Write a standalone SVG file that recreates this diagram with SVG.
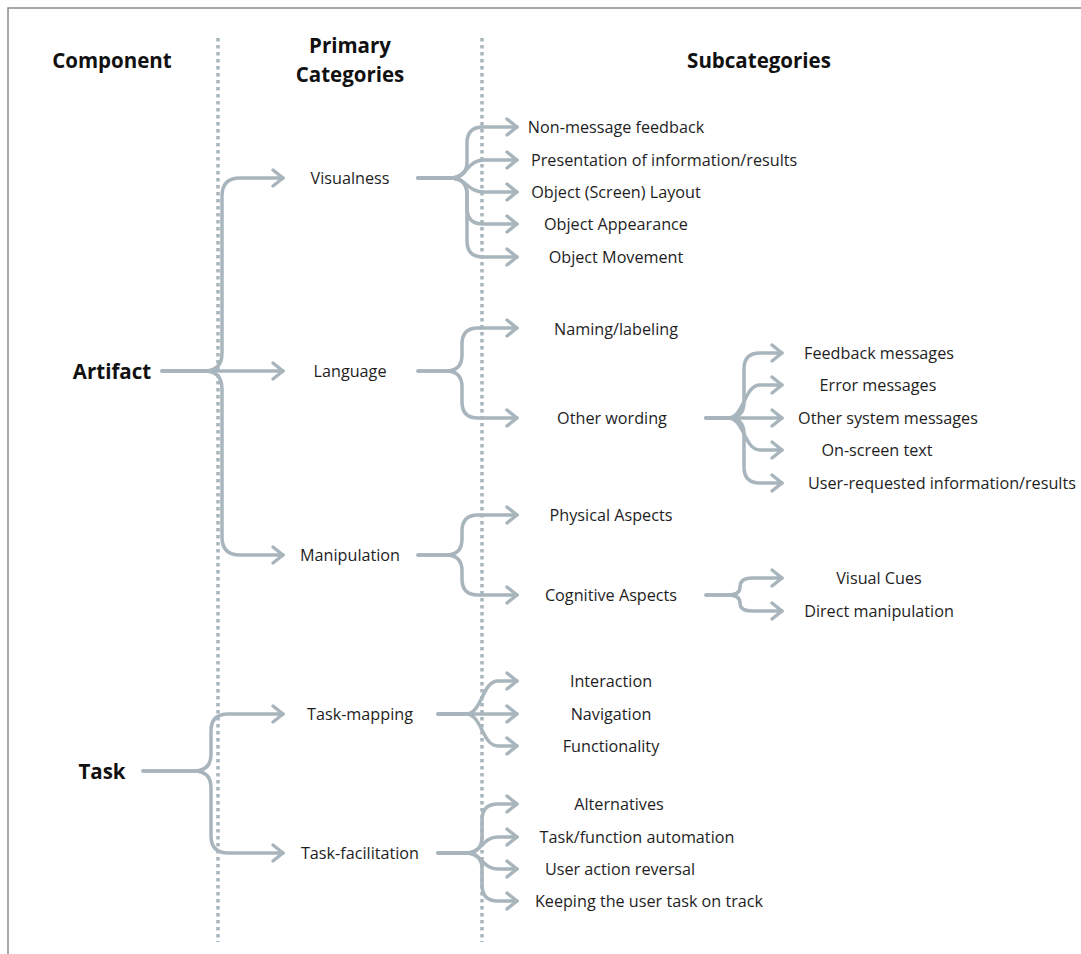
<svg xmlns="http://www.w3.org/2000/svg" width="1081" height="954" viewBox="0 0 1081 954">
<defs>
<style>
.t{font-family:"Open Sans","Liberation Sans",sans-serif;font-size:16.2px;fill:#1e1e1e;dominant-baseline:central}
.h{font-family:"Open Sans","Liberation Sans",sans-serif;font-size:20.5px;font-weight:bold;fill:#111;dominant-baseline:central;text-anchor:middle}
.c{fill:none;stroke:#a9b5bc;stroke-width:3.5;stroke-linecap:round;stroke-linejoin:round;marker-end:url(#ah)}
.d{fill:none;stroke:#a9b5bc;stroke-width:3.5;stroke-dasharray:3.5 3.5}
</style>
<marker id="ah" markerUnits="userSpaceOnUse" markerWidth="24" markerHeight="24" viewBox="-14 -12 18 24" refX="0" refY="0" orient="auto">
<path d="M-10,-8 L0,0 L-10,8" fill="none" stroke="#a9b5bc" stroke-width="3.5" stroke-linecap="round" stroke-linejoin="round"/>
</marker>
</defs>
<rect x="0" y="0" width="1081" height="954" fill="#fff"/>
<path d="M8,954 V8 H1081" fill="none" stroke="#8a8a8a" stroke-width="1.5"/>
<g id="dividers">
<line class="d" x1="218" y1="38" x2="218" y2="942"/>
<line class="d" x1="482" y1="38" x2="482" y2="942"/>
</g>
<g id="headers">
<text class="h" x="112" y="60">Component</text>
<text class="h" x="350" y="45">Primary</text>
<text class="h" x="350" y="74">Categories</text>
<text class="h" x="759" y="60">Subcategories</text>
</g>
<g id="connectors">
<!-- Artifact -->
<path class="c" d="M162,371 H204 Q222,371 222,353 V196 Q222,178 240,178 H283"/>
<path class="c" d="M162,371 H283"/>
<path class="c" d="M162,371 H204 Q222,371 222,389 V537 Q222,555 240,555 H283"/>
<!-- Visualness -->
<path class="c" d="M418,178 H450 Q467,178 467,162 V143 Q467,127 483,127 H517"/>
<path class="c" d="M418,178 H450 C467,178 467,160 484,160 H517"/>
<path class="c" d="M418,178 H450 C467,178 467,192 484,192 H517"/>
<path class="c" d="M418,178 H450 Q467,178 467,194 V208 Q467,224 483,224 H517"/>
<path class="c" d="M418,178 H450 Q467,178 467,194 V241 Q467,257 483,257 H517"/>
<!-- Language -->
<path class="c" d="M418,371 H446 Q462,371 462,355 V344 Q462,328 478,328 H517"/>
<path class="c" d="M418,371 H446 Q462,371 462,387 V402 Q462,418 478,418 H517"/>
<!-- Other wording -->
<path class="c" d="M706,418 H728 Q744,418 744,402 V369 Q744,353 760,353 H782"/>
<path class="c" d="M706,418 H728 C744,418 744,385 760,385 H782"/>
<path class="c" d="M706,418 H782"/>
<path class="c" d="M706,418 H728 C744,418 744,450 760,450 H782"/>
<path class="c" d="M706,418 H728 Q744,418 744,434 V467 Q744,483 760,483 H782"/>
<!-- Manipulation -->
<path class="c" d="M418,555 H446 Q462,555 462,539 V531 Q462,515 478,515 H517"/>
<path class="c" d="M418,555 H446 Q462,555 462,571 V579 Q462,595 478,595 H517"/>
<!-- Cognitive Aspects -->
<path class="c" d="M706,595 H728 Q740,595 740,587 Q740,578 752,578 H782"/>
<path class="c" d="M706,595 H728 Q740,595 740,603 Q740,611 752,611 H782"/>
<!-- Task -->
<path class="c" d="M143,771 H194 Q211,771 211,754 V731 Q211,714 228,714 H283"/>
<path class="c" d="M143,771 H194 Q211,771 211,788 V836 Q211,853 228,853 H283"/>
<!-- Task-mapping -->
<path class="c" d="M438,714 H466 C482,714 482,681 498,681 H517"/>
<path class="c" d="M438,714 H517"/>
<path class="c" d="M438,714 H466 C482,714 482,746 498,746 H517"/>
<!-- Task-facilitation -->
<path class="c" d="M438,853 H466 Q482,853 482,837 V820 Q482,804 498,804 H517"/>
<path class="c" d="M438,853 H466 C482,853 482,837 498,837 H517"/>
<path class="c" d="M438,853 H466 C482,853 482,869 498,869 H517"/>
<path class="c" d="M438,853 H466 Q482,853 482,869 V885 Q482,901 498,901 H517"/>
</g>
<g id="artifact"><text class="h" x="112" y="371">Artifact</text></g>
<g id="task"><text class="h" x="102" y="771">Task</text></g>
<g id="visualness"><text class="t" x="350" y="178" text-anchor="middle">Visualness</text></g>
<g id="language"><text class="t" x="350" y="371" text-anchor="middle">Language</text></g>
<g id="manipulation"><text class="t" x="350" y="555" text-anchor="middle">Manipulation</text></g>
<g id="task-mapping"><text class="t" x="360" y="714" text-anchor="middle">Task-mapping</text></g>
<g id="task-facilitation"><text class="t" x="360" y="853" text-anchor="middle">Task-facilitation</text></g>
<g id="non-message-feedback"><text class="t" x="616" y="127" text-anchor="middle">Non-message feedback</text></g>
<g id="presentation"><text class="t" x="531" y="160">Presentation of information/results</text></g>
<g id="object-layout"><text class="t" x="616" y="192" text-anchor="middle">Object (Screen) Layout</text></g>
<g id="object-appearance"><text class="t" x="616" y="224" text-anchor="middle">Object Appearance</text></g>
<g id="object-movement"><text class="t" x="616" y="257" text-anchor="middle">Object Movement</text></g>
<g id="naming-labeling"><text class="t" x="616" y="329" text-anchor="middle">Naming/labeling</text></g>
<g id="other-wording"><text class="t" x="612" y="418" text-anchor="middle">Other wording</text></g>
<g id="feedback-messages"><text class="t" x="879" y="353" text-anchor="middle">Feedback messages</text></g>
<g id="error-messages"><text class="t" x="878" y="385" text-anchor="middle">Error messages</text></g>
<g id="other-system-messages"><text class="t" x="888" y="418" text-anchor="middle">Other system messages</text></g>
<g id="on-screen-text"><text class="t" x="877" y="450" text-anchor="middle">On-screen text</text></g>
<g id="user-requested"><text class="t" x="808" y="483">User-requested information/results</text></g>
<g id="physical-aspects"><text class="t" x="611" y="515" text-anchor="middle">Physical Aspects</text></g>
<g id="cognitive-aspects"><text class="t" x="611" y="595" text-anchor="middle">Cognitive Aspects</text></g>
<g id="visual-cues"><text class="t" x="879" y="578" text-anchor="middle">Visual Cues</text></g>
<g id="direct-manipulation"><text class="t" x="879" y="611" text-anchor="middle">Direct manipulation</text></g>
<g id="interaction"><text class="t" x="611" y="681" text-anchor="middle">Interaction</text></g>
<g id="navigation"><text class="t" x="611" y="714" text-anchor="middle">Navigation</text></g>
<g id="functionality"><text class="t" x="611" y="746" text-anchor="middle">Functionality</text></g>
<g id="alternatives"><text class="t" x="619" y="804" text-anchor="middle">Alternatives</text></g>
<g id="automation"><text class="t" x="637" y="837" text-anchor="middle">Task/function automation</text></g>
<g id="reversal"><text class="t" x="620" y="869" text-anchor="middle">User action reversal</text></g>
<g id="on-track"><text class="t" x="649" y="901" text-anchor="middle">Keeping the user task on track</text></g>
</svg>
